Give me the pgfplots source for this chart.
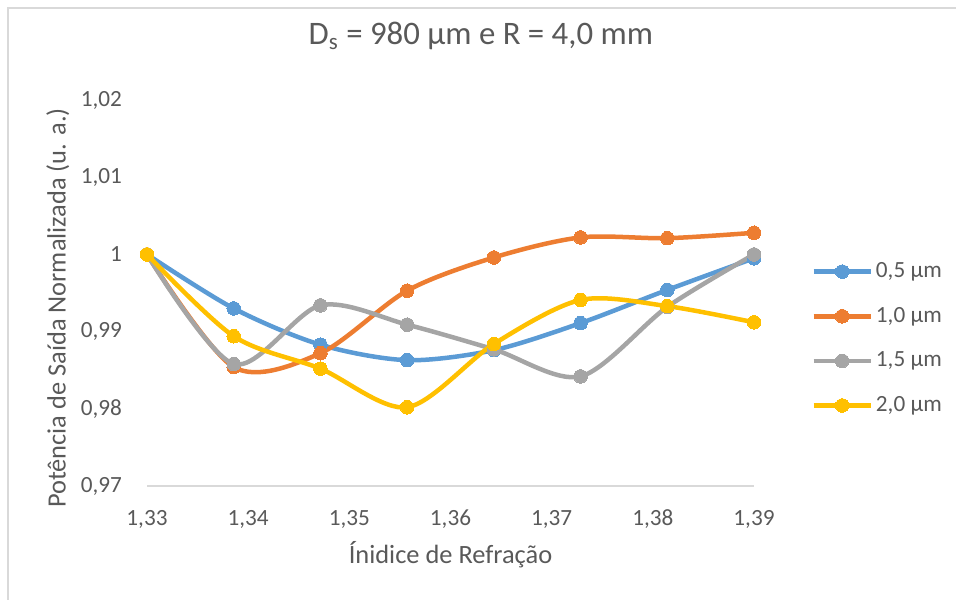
\documentclass[border=0pt]{standalone}
\usepackage{pgfplots}
\pgfplotsset{compat=1.18}
\usepackage{fontspec}
\setmainfont{Carlito}
\definecolor{sblue}{HTML}{5B9BD5}
\definecolor{sorange}{HTML}{ED7D31}
\definecolor{sgray}{HTML}{A5A5A5}
\definecolor{syellow}{HTML}{FFC000}
\definecolor{txt}{HTML}{595959}
\definecolor{axl}{HTML}{D9D9D9}
\begin{document}
\begin{tikzpicture}
\useasboundingbox (0,0) rectangle (478pt,299.5pt);
\draw[axl, line width=0.75pt] (4pt,-5pt) -- (4pt,295.5pt) -- (485pt,295.5pt);
\begin{axis}[
  at={(73.5pt,56.5pt)}, anchor=south west,
  scale only axis, width=303.5pt, height=193pt,
  xmin=1.33, xmax=1.39, ymin=0.97, ymax=1.02,
  xtick={1.33,1.34,...,1.391}, ytick={0.97,0.98,...,1.021},
  major tick length=0pt,
  axis line style={draw=none},
  after end axis/.code={\draw[axl, line width=0.75pt] (rel axis cs:0,0) -- (rel axis cs:1,0);},
  /pgf/number format/assume math mode=true,
  /pgf/number format/use comma,
  /pgf/number format/fixed,
  /pgf/number format/precision=2,
  tick label style={font=\fontsize{11.6}{13.6}\selectfont, text=txt},
  xticklabel style={yshift=-8.5pt},
  yticklabel style={xshift=-9pt},
  title={D\textsubscript{s} = 980 µm e R = 4,0 mm},
  title style={font=\fontsize{16.4}{19}\selectfont, text=txt, at={(rel axis cs:0.55,1.135)}, anchor=center, yshift=0pt},
  xlabel={Ínidice de Refração},
  xlabel style={font=\fontsize{13.2}{15}\selectfont, text=txt, at={(rel axis cs:0.5,-0.179)}, anchor=center},
  ylabel={Potência de Saída Normalizada (u. a.)},
  ylabel style={font=\fontsize{13.2}{15}\selectfont, text=txt, at={(rel axis cs:-0.147,0.461)}, anchor=center, rotate=0},
  legend style={draw=none, fill=none, at={(rel axis cs:1.094,0.382)}, anchor=west,
    font=\fontsize{11.6}{13.6}\selectfont, text=txt, row sep=9.3pt, inner sep=0pt,
    nodes={inner xsep=1.5pt}},
  legend cell align=left,
  legend image code/.code={\draw[mark repeat=2,mark phase=2] plot coordinates {(0pt,0pt) (14.25pt,0pt) (28.5pt,0pt)};},
  every axis plot/.append style={line width=2.25pt, smooth, mark=*, mark size=3.4pt},
  clip=false,
]
\addplot[color=sblue, mark options={fill=sblue, draw=sblue, line width=0pt}] coordinates {
(1.33,1.0) (1.338571,0.9930) (1.347143,0.9883) (1.355714,0.9863) (1.364286,0.9876) (1.372857,0.9911) (1.381429,0.9954) (1.39,0.9995)};
\addlegendentry{0,5 µm}
\addplot[color=sorange, mark options={fill=sorange, draw=sorange, line width=0pt}] coordinates {
(1.33,1.0) (1.338571,0.9854) (1.347143,0.9872) (1.355714,0.9953) (1.364286,0.9996) (1.372857,1.0022) (1.381429,1.0021) (1.39,1.0028)};
\addlegendentry{1,0 µm}
\addplot[color=sgray, mark options={fill=sgray, draw=sgray, line width=0pt}] coordinates {
(1.33,1.0) (1.338571,0.9858) (1.347143,0.9934) (1.355714,0.9909) (1.364286,0.9877) (1.372857,0.9842) (1.381429,0.9932) (1.39,1.0)};
\addlegendentry{1,5 µm}
\addplot[color=syellow, mark options={fill=syellow, draw=syellow, line width=0pt}] coordinates {
(1.33,1.0) (1.338571,0.9894) (1.347143,0.9852) (1.355714,0.9802) (1.364286,0.9884) (1.372857,0.9941) (1.381429,0.9933) (1.39,0.9912)};
\addlegendentry{2,0 µm}
\end{axis}
\end{tikzpicture}
\end{document}
